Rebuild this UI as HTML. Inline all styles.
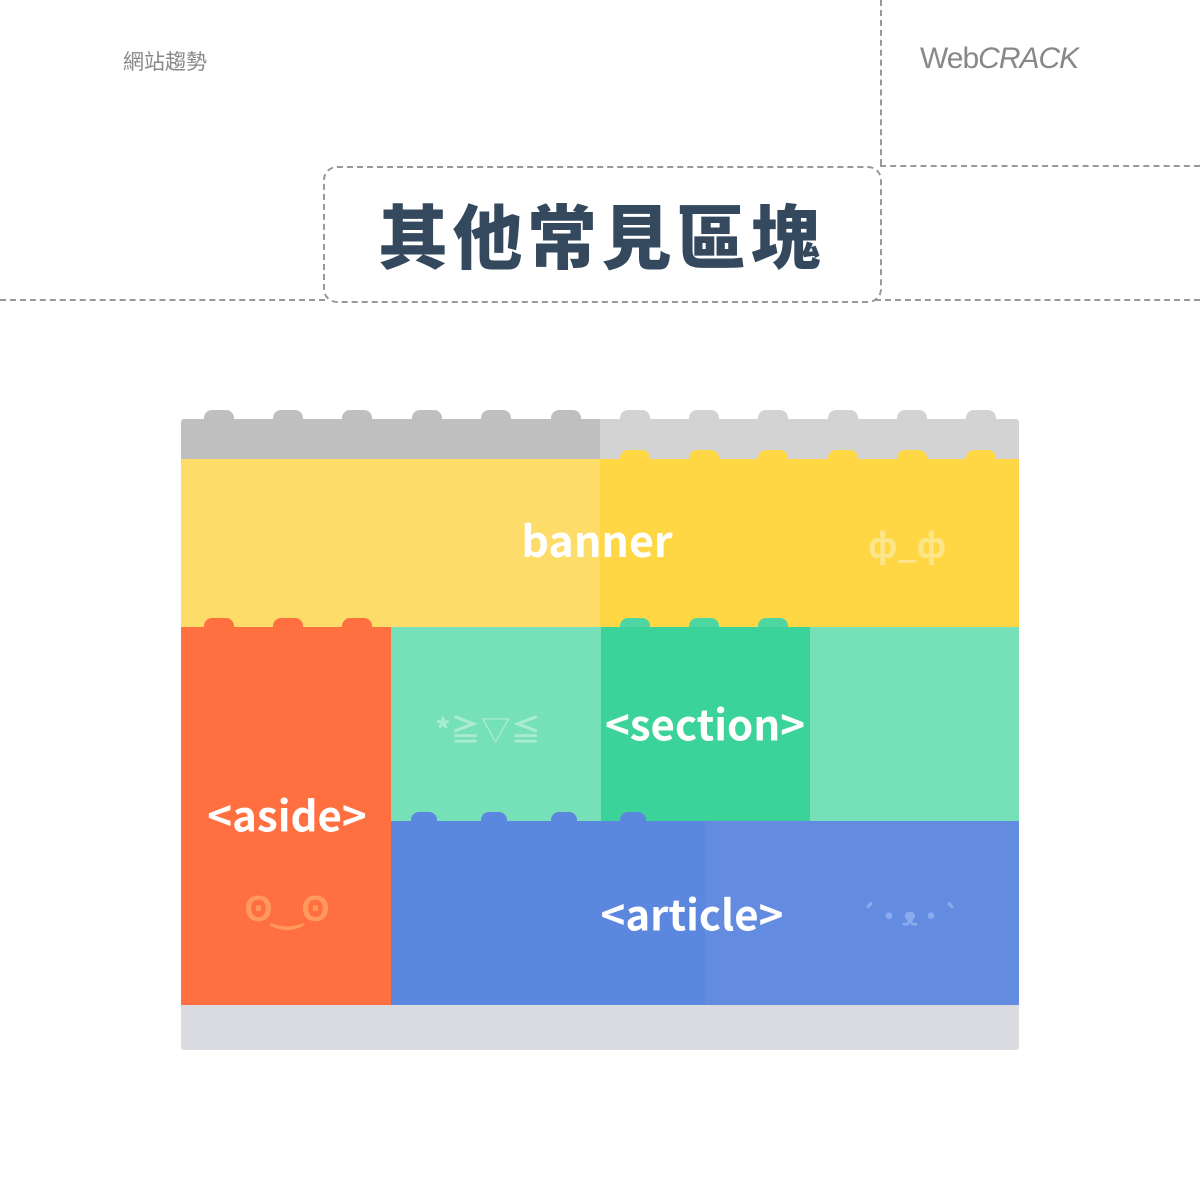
<!DOCTYPE html>
<html><head><meta charset="utf-8"><style>
body{margin:0;width:1200px;height:1200px;background:#fff;position:relative;overflow:hidden;font-family:"Liberation Sans","Noto Sans CJK TC",sans-serif}
.a{position:absolute}
.s{position:absolute;width:30px;height:16px;border-radius:8px 8px 0 0}
.t{position:absolute;color:#fff;font-weight:bold;font-family:"Noto Sans CJK TC","Liberation Sans",sans-serif;white-space:nowrap;transform:translate(-50%,-50%)}
</style></head><body>
<div class="a" style="left:880px;top:0;height:165px;border-left:2px dashed #999"></div>
<div class="a" style="left:880px;top:165px;width:320px;border-top:2px dashed #999"></div>
<div class="a" style="left:0;top:299px;width:325px;border-top:2px dashed #999"></div>
<div class="a" style="left:875px;top:299px;width:325px;border-top:2px dashed #999"></div>
<div class="a" style="left:323px;top:166px;width:555px;height:133px;border:2px dashed #999;border-radius:14px"></div>
<div class="a" style="left:123px;top:46px;font-size:21px;color:#888;font-family:'Noto Sans CJK TC',sans-serif">網站趨勢</div>
<div class="a" style="left:920px;top:42px;font-size:30px;color:#888;letter-spacing:-1px">Web<i>CRACK</i></div>
<div class="a" style="left:378px;top:186px;font-size:70px;font-weight:900;color:#34495e;font-family:'Noto Sans CJK TC',sans-serif;letter-spacing:4.5px;line-height:96px">其他常見區塊</div>

<div class="s" style="left:204px;top:410px;background:#bfbfbf"></div>
<div class="s" style="left:273px;top:410px;background:#bfbfbf"></div>
<div class="s" style="left:342px;top:410px;background:#bfbfbf"></div>
<div class="s" style="left:412px;top:410px;background:#bfbfbf"></div>
<div class="s" style="left:481px;top:410px;background:#bfbfbf"></div>
<div class="s" style="left:551px;top:410px;background:#bfbfbf"></div>
<div class="s" style="left:620px;top:410px;background:#d3d3d3"></div>
<div class="s" style="left:689px;top:410px;background:#d3d3d3"></div>
<div class="s" style="left:758px;top:410px;background:#d3d3d3"></div>
<div class="s" style="left:828px;top:410px;background:#d3d3d3"></div>
<div class="s" style="left:897px;top:410px;background:#d3d3d3"></div>
<div class="s" style="left:966px;top:410px;background:#d3d3d3"></div>
<div class="a" style="left:181px;top:419px;width:419px;height:40px;background:#bfbfbf;border-radius:3px 0 0 0"></div>
<div class="a" style="left:600px;top:419px;width:419px;height:40px;background:#d3d3d3;border-radius:0 3px 0 0"></div>
<div class="s" style="left:620px;top:450px;background:#ffd644"></div>
<div class="s" style="left:689px;top:450px;background:#ffd644"></div>
<div class="s" style="left:758px;top:450px;background:#ffd644"></div>
<div class="s" style="left:828px;top:450px;background:#ffd644"></div>
<div class="s" style="left:897px;top:450px;background:#ffd644"></div>
<div class="s" style="left:966px;top:450px;background:#ffd644"></div>
<div class="a" style="left:181px;top:459px;width:419px;height:168px;background:#fddc6a"></div>
<div class="a" style="left:600px;top:459px;width:419px;height:168px;background:#ffd644"></div>
<div class="t" style="left:597px;top:539px;font-size:43px">banner</div>
<div class="t" style="left:907px;top:543px;font-size:34px;color:#fde58a">ф_ф</div>

<div class="s" style="left:204px;top:618px;background:#ff6f3f"></div>
<div class="s" style="left:273px;top:618px;background:#ff6f3f"></div>
<div class="s" style="left:342px;top:618px;background:#ff6f3f"></div>
<div class="s" style="left:620px;top:618px;background:#4dd6a2"></div>
<div class="s" style="left:689px;top:618px;background:#4dd6a2"></div>
<div class="s" style="left:758px;top:618px;background:#4dd6a2"></div>
<div class="a" style="left:181px;top:627px;width:210px;height:378px;background:#ff6f3f"></div>
<div class="a" style="left:391px;top:627px;width:628px;height:194px;background:#76e0b8"></div>
<div class="a" style="left:601px;top:627px;width:209px;height:194px;background:#3bd39a"></div>
<div class="t" style="left:488px;top:728px;font-size:30px;color:#a9ecd2">*≧▽≦</div>
<div class="t" style="left:705px;top:723px;font-size:42px">&lt;section&gt;</div>
<div class="t" style="left:287px;top:814px;font-size:42px">&lt;aside&gt;</div>
<div class="t" style="left:287px;top:906px;font-size:36px;color:#ff9a5c">ʘ‿ʘ</div>

<div class="s" style="left:411px;top:812px;width:26px;background:#5b87df"></div>
<div class="s" style="left:481px;top:812px;width:26px;background:#5b87df"></div>
<div class="s" style="left:551px;top:812px;width:26px;background:#5b87df"></div>
<div class="s" style="left:620px;top:812px;width:26px;background:#5b87df"></div>
<div class="a" style="left:391px;top:821px;width:628px;height:184px;background:#5b87df"></div>
<div class="a" style="left:705px;top:821px;width:314px;height:184px;background:#638ce1"></div>
<div class="t" style="left:692px;top:913px;font-size:42px">&lt;article&gt;</div>
<div class="t" style="left:910px;top:915px;font-size:26px;color:#8aaaee">´•ᴥ•`</div>
<div class="a" style="left:181px;top:1005px;width:838px;height:45px;background:#d9dbe0;border-radius:0 0 3px 3px"></div>
</body></html>
